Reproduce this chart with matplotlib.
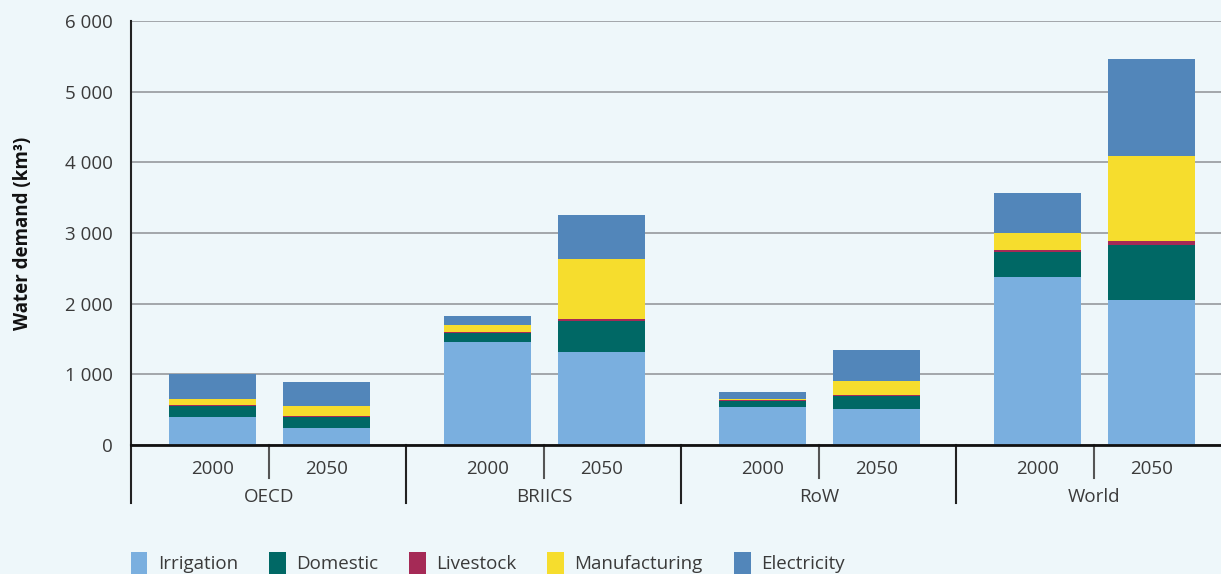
import matplotlib
matplotlib.use('Agg')
import matplotlib.pyplot as plt
import matplotlib.transforms as mtransforms
from matplotlib.patches import Patch
from matplotlib.ticker import FuncFormatter

# ---------------------------------------------------------------------------
# Data (km3)
# ---------------------------------------------------------------------------
regions = ['OECD', 'BRIICS', 'RoW', 'World']
years = ['2000', '2050']
sectors = ['Irrigation', 'Domestic', 'Livestock', 'Manufacturing', 'Electricity']

# one list per sector, order: OECD 2000, OECD 2050, BRIICS 2000, BRIICS 2050,
# RoW 2000, RoW 2050, World 2000, World 2050
irrigation    = [396, 241, 1457, 1316, 538, 509, 2377, 2052]
domestic      = [160, 151, 123, 439, 85, 189, 354, 778]
livestock     = [14, 18, 19, 28, 9, 10, 33, 57]
manufacturing = [81, 142, 99, 849, 19, 198, 241, 1202]
electricity   = [354, 339, 127, 623, 99, 438, 561, 1373]

series = [irrigation, domestic, livestock, manufacturing, electricity]
colors = ['#7aafdf', '#006865', '#a52a56', '#f6dd2d', '#5286ba']

_BG = '#eef7fa'
_TXT = '#3a3a3a'
_GRID = '#a2a6aa'

plt.rcParams.update({
    'font.family': ['Open Sans', 'DejaVu Sans'],
    'font.size': 13,
    'text.color': _TXT,
})

W, H = 1221, 574
fig = plt.figure(figsize=(W / 100, H / 100), dpi=100, facecolor=_BG)
ax = fig.add_axes([131 / W, (H - 445) / H, (W - 131) / W, 424 / H])
ax.set_facecolor(_BG)

# layout: each region spans one x unit (about 275 px)
bar_w = 0.317
offsets = [0.296, 0.711]
xs = [g + offsets[j] for g in range(len(regions)) for j in range(len(years))]

bottom = [0] * len(xs)
for vals, col in zip(series, colors):
    ax.bar(xs, vals, width=bar_w, bottom=bottom, color=col, linewidth=0, zorder=3)
    bottom = [b + v for b, v in zip(bottom, vals)]

ax.set_xlim(0, (W - 131) / 275)
ax.set_ylim(0, 6000)
ax.set_yticks(range(0, 6001, 1000))
ax.yaxis.set_major_formatter(FuncFormatter(lambda v, _: f'{int(v):,}'.replace(',', ' ')))
ax.tick_params(axis='y', length=0, pad=13, labelsize=13.5, colors=_TXT)
ax.set_xticks([])
ax.grid(axis='y', color=_GRID, linewidth=1.4, zorder=0)

for s in ['top', 'right']:
    ax.spines[s].set_visible(False)
ax.spines['left'].set_color('#222222')
ax.spines['left'].set_linewidth(1.5)
ax.spines['bottom'].set_color('#111111')
ax.spines['bottom'].set_linewidth(2)
ax.spines['bottom'].set_zorder(5)

ax.set_ylabel('Water demand (km³)', fontweight='bold', fontsize=13.5, labelpad=23,
              color='#111111')

# category axis: separators and labels below the plot
trans = mtransforms.blended_transform_factory(ax.transData, ax.transAxes)
px = 1 / 424
for g, reg in enumerate(regions):
    ax.plot([g, g], [0, -58 * px], transform=trans, color='#222222', lw=1.5, clip_on=False)
    ax.plot([g + 0.502, g + 0.502], [0, -33 * px], transform=trans, color='#555555', lw=1.5,
            clip_on=False)
    for j, yr in enumerate(years):
        ax.text(g + offsets[j], -24 * px, yr, transform=trans, ha='center', va='center',
                fontsize=13.5, color=_TXT)
    ax.text(g + 0.502, -52 * px, reg, transform=trans, ha='center', va='center',
            fontsize=13.5, color=_TXT)

handles = [Patch(facecolor=c, edgecolor='none', label=s) for s, c in zip(sectors, colors)]
fig.legend(handles=handles, loc='center left', bbox_to_anchor=(123 / W, 11 / H), ncol=5,
           frameon=False, fontsize=13.5, handlelength=0.9, handleheight=1.5,
           handletextpad=0.55, columnspacing=1.65, borderaxespad=0)

fig.savefig('out.png', dpi=100, facecolor=_BG)
